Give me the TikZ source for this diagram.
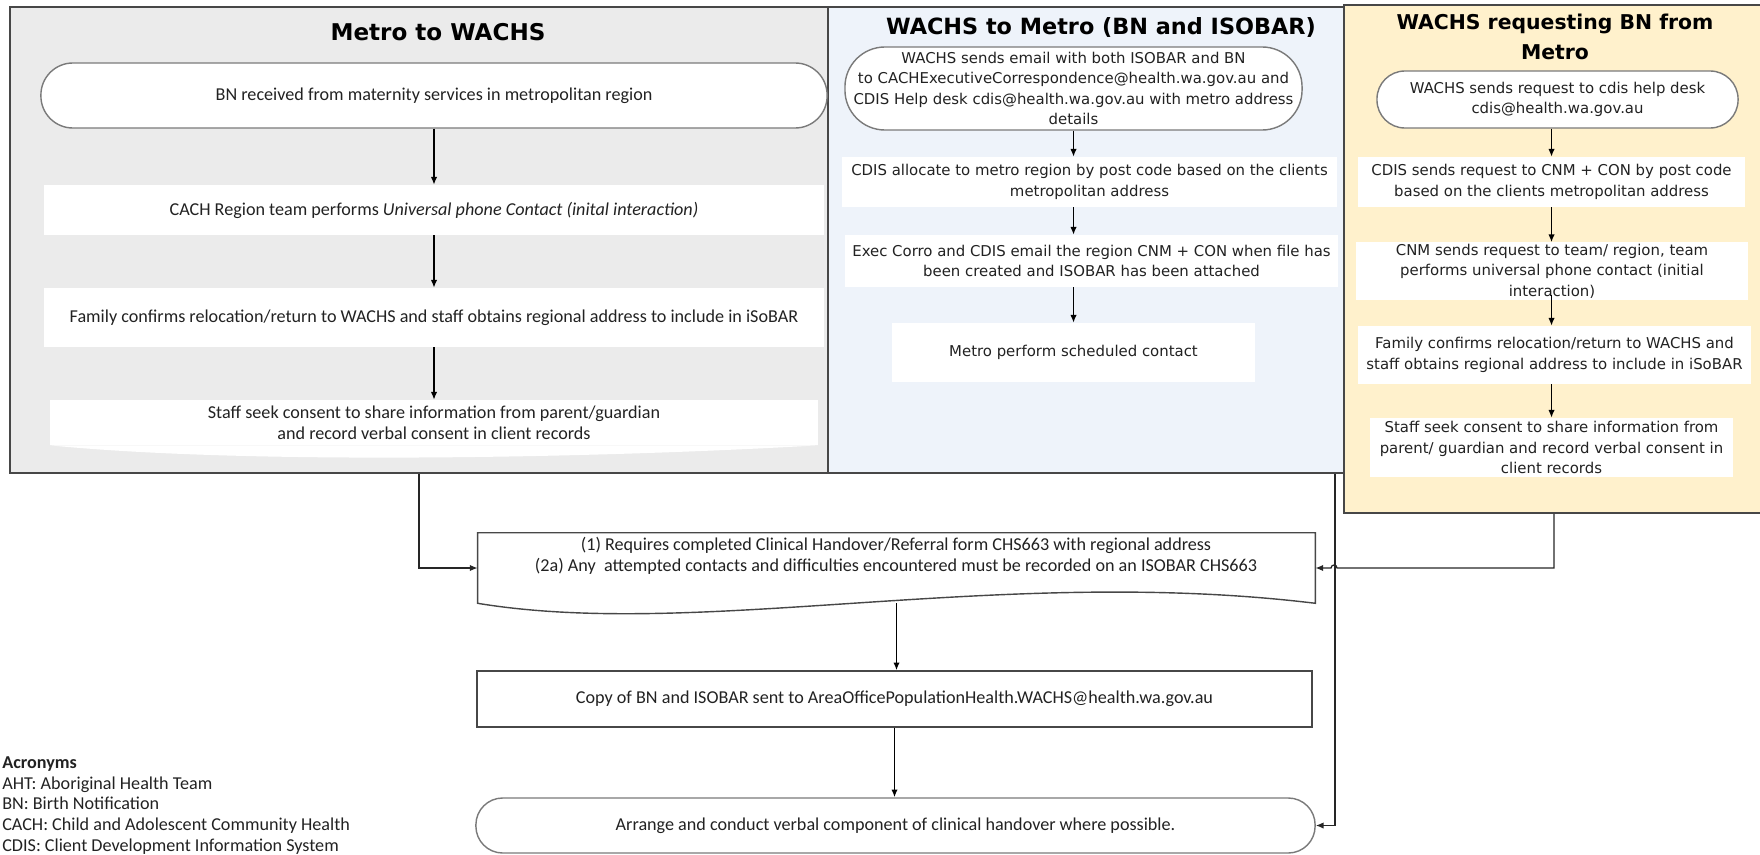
\documentclass[tikz,border=0pt]{standalone}
\usepackage{fontspec}
\setmainfont{Carlito}
\newfontfamily\verdfont{DejaVu Sans}
\usepackage{xcolor}
\usetikzlibrary{arrows.meta}
\definecolor{metrogray}{HTML}{EBEBEB}
\definecolor{metroblue}{HTML}{EEF3FA}
\definecolor{reqyellow}{HTML}{FFF1CC}
\definecolor{edgegray}{HTML}{474747}
\definecolor{termgray}{HTML}{7A7A7A}
\definecolor{inkgray}{HTML}{222222}

\begin{document}
\begin{tikzpicture}[
  x=0.025cm, y=-0.025cm,
  >={Latex[length=5.5pt,width=4.5pt]},
  % ---- node styles ----
  panel/.style={
    draw=edgegray, line width=1.2pt, inner sep=0pt,
    minimum height=11.65cm
  },
  paneltitle/.style={
    font=\verdfont\bfseries\fontsize{16.4}{20}\selectfont,
    align=center, inner sep=0pt
  },
  calib/.style={font=\fontsize{12.9}{14.9}\selectfont, text=inkgray},
  verd/.style={font=\verdfont\fontsize{10.6}{14.5}\selectfont, text=inkgray},
  stepbox/.style={fill=white, align=center, inner sep=0pt},
  termbox/.style={
    draw=termgray, line width=1pt, fill=white,
    align=center, inner sep=0pt
  },
  docbox/.style={fill=white, inner sep=0pt},
  flow/.style={->, line width=1pt},
  link/.style={->, line width=0.9pt, draw=black!85},
]
\useasboundingbox (0,0) rectangle (1760,854);

% ---- Panels ----
\node[panel, fill=metrogray, minimum width=20.45cm] (p1) at (419,240) {};
\node[panel, fill=metroblue, minimum width=12.9cm] (p2) at (1086,240) {};
\node[panel, fill=reqyellow, minimum width=10.5cm, minimum height=12.7cm] (p3) at (1554,259) {};

\node[paneltitle] (t1) at (438,32) {Metro to WACHS};
\node[paneltitle, font=\verdfont\bfseries\fontsize{15.9}{20}\selectfont] (t2) at (1101,27)
  {WACHS to Metro (BN and ISOBAR)};
\node[paneltitle, font=\verdfont\bfseries\fontsize{14.5}{21.3}\selectfont] (t3) at (1555,37)
  {WACHS requesting BN from\\Metro};

% ---- Metro to WACHS ----
\node[termbox, calib, rounded corners=0.8cm, minimum width=19.65cm, minimum height=1.625cm]
  (p1a) at (434,95.5) {BN received from maternity services in metropolitan region};
\node[stepbox, calib, minimum width=19.5cm, minimum height=1.25cm] (p1b) at (434,210)
  {CACH Region team performs \textit{Universal phone Contact (inital interaction)}};
\node[stepbox, calib, minimum width=19.5cm, minimum height=1.475cm] (p1c) at (434,317.5)
  {Family confirms relocation/return to WACHS and staff obtains regional address to include in iSoBAR};
\node[stepbox, calib, minimum width=19.2cm, minimum height=1.125cm] (p1d) at (434,422.5)
  {Staff seek consent to share information from parent/guardian\\and record verbal consent in client records};
\fill[white] (p1d.south east) .. controls (600,458) and (250,465) .. (p1d.south west) -- cycle;

\draw[flow] (p1a) -- (p1b);
\draw[flow] (p1b) -- (p1c);
\draw[flow] (p1c) -- (p1d);

% ---- WACHS to Metro ----
\node[termbox, verd, rounded corners=1.0cm, minimum width=11.425cm, minimum height=2.075cm]
  (p2a) at (1073.5,88.5) {WACHS sends email with both ISOBAR and BN\\
  to CACHExecutiveCorrespondence@health.wa.gov.au and\\
  CDIS Help desk cdis@health.wa.gov.au with metro address\\details};
\node[stepbox, verd, minimum width=12.375cm, minimum height=1.25cm] (p2b) at (1089.5,182)
  {CDIS allocate to metro region by post code based on the clients\\metropolitan address};
\node[stepbox, verd, minimum width=12.325cm, minimum height=1.3cm] (p2c) at (1091.5,261)
  {Exec Corro and CDIS email the region CNM + CON when file has\\been created and ISOBAR has been attached};
\node[stepbox, verd, minimum width=9.075cm, minimum height=1.475cm] (p2d) at (1073.5,352.5)
  {Metro perform scheduled contact};

\draw[flow] (p2a) -- (p2a |- p2b.north);
\draw[flow] (p2a |- p2b.south) -- (p2a |- p2c.north);
\draw[flow] (p2a |- p2c.south) -- (p2d);

% ---- WACHS requesting BN ----
\node[termbox, verd, rounded corners=0.7cm, minimum width=9.025cm, minimum height=1.425cm]
  (p3a) at (1557.5,99.5) {WACHS sends request to cdis help desk\\cdis@health.wa.gov.au};
\node[stepbox, verd, minimum width=9.675cm, minimum height=1.25cm] (p3b) at (1551.5,182)
  {CDIS sends request to CNM + CON by post code\\based on the clients metropolitan address};
\node[stepbox, verd, minimum width=9.8cm, minimum height=1.425cm] (p3c) at (1552,271)
  {CNM sends request to team/ region, team\\performs universal phone contact (initial\\interaction)};
\node[stepbox, verd, minimum width=9.825cm, minimum height=1.45cm] (p3d) at (1554.5,355)
  {Family confirms relocation/return to WACHS and\\staff obtains regional address to include in iSoBAR};
\node[stepbox, verd, minimum width=9.075cm, minimum height=1.475cm] (p3e) at (1551.5,447.5)
  {Staff seek consent to share information from\\parent/ guardian and record verbal consent in\\client records};

\draw[flow] (p3b |- p3a.south) -- (p3b.north);
\draw[flow] (p3b.south) -- (p3b |- p3c.north);
\draw[flow] ([yshift=0.12cm]p3b |- p3c.south) -- (p3b |- p3d.north);
\draw[flow] (p3b |- p3d.south) -- (p3b |- p3e.north);

% ---- Shared handover steps ----
\node[docbox, minimum width=20.925cm, minimum height=1.75cm] (doc) at (896.5,568) {};
\draw[draw=edgegray, line width=1pt, fill=white] (doc.north west) -- (doc.north east)
  -- (doc.south east) .. controls (1000,565) and (700,640) .. (doc.south west) -- cycle;
\node[calib, align=center, inner sep=0pt] (doctext) at (896,556)
  {(1) Requires completed Clinical Handover/Referral form CHS663 with regional address\\
   (2a) Any~ attempted contacts and difficulties encountered must be recorded on an ISOBAR CHS663};

\node[stepbox, calib, draw=edgegray, line width=1pt, minimum width=20.875cm, minimum height=1.4cm]
  (copy) at (894.5,699)
  {Copy of BN and ISOBAR sent to AreaOfficePopulationHealth.WACHS@health.wa.gov.au};
\node[termbox, calib, rounded corners=0.67cm, minimum width=20.975cm, minimum height=1.375cm]
  (arrange) at (895.5,825.5)
  {Arrange and conduct verbal component of clinical handover where possible.};

\draw[flow] (doc.south) -- (doc.south |- copy.north);
\draw[flow] (copy.south) -- (copy.south |- arrange.north);

% ---- Panel outputs ----
\draw[link] (p1.south) |- (doc.west);
\draw[link] (p3.south) |- (1337,568) arc[start angle=0, end angle=180, radius=0.075cm] -- (doc.east);
\draw[link] ([xshift=-0.25cm]p2.south east) |- (arrange.east);

% ---- Acronyms ----
\node[calib, align=left, anchor=north west, inner sep=0pt] (acro) at (2,756)
  {\textbf{Acronyms}\\AHT: Aboriginal Health Team\\BN: Birth Notification\\
   CACH: Child and Adolescent Community Health\\CDIS: Client Development Information System};

\end{tikzpicture}
\end{document}
